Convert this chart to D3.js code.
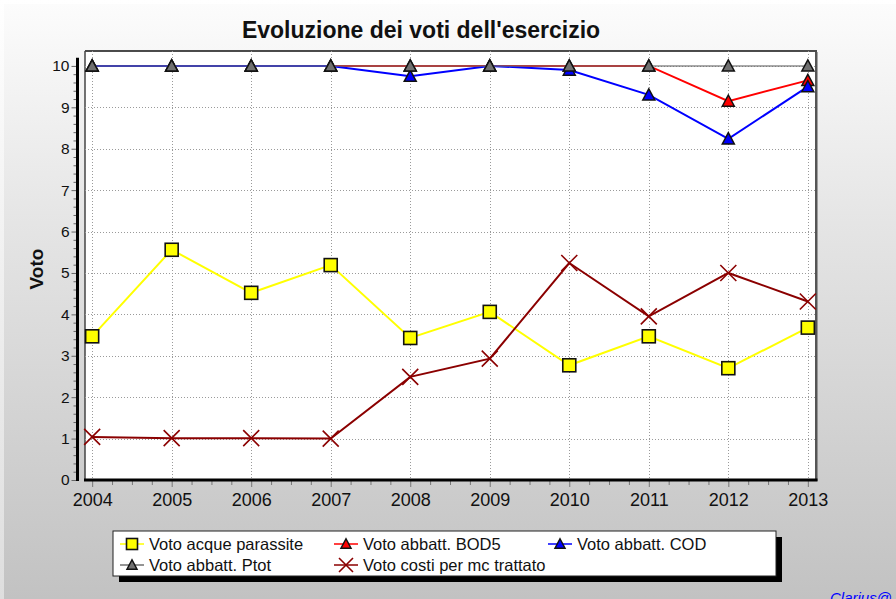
<!DOCTYPE html>
<html>
<head>
<meta charset="utf-8">
<script src="https://cdn.jsdelivr.net/npm/d3@7/dist/d3.min.js"></script>
<style>
  html, body { margin: 0; padding: 0; background: #fff; }
  svg { display: block; font-family: "Liberation Sans", Arial, sans-serif; }
</style>
</head>
<body>
<svg id="chart" width="896" height="599"></svg>
<script>
// Years on the x axis
const years = [2004, 2005, 2006, 2007, 2008, 2009, 2010, 2011, 2012, 2013];

// Scores per indicator
const acqueParassite = [3.47, 5.56, 4.52, 5.19, 3.43, 4.06, 2.77, 3.47, 2.70, 3.68];
const abbattBOD5     = [10, 10, 10, 10, 10, 10, 10, 10, 9.15, 9.65];
const abbattCOD      = [10, 10, 10, 10, 9.75, 10, 9.9, 9.3, 8.24, 9.5];
const abbattPtot     = [10, 10, 10, 10, 10, 10, 10, 10, 10, 10];
const costiMc        = [1.04, 1.01, 1.01, 1.00, 2.49, 2.93, 5.24, 3.95, 5.0, 4.31];

const yTicks = [0, 1, 2, 3, 4, 5, 6, 7, 8, 9, 10];

const seriesNames = [
  "Voto acque parassite",
  "Voto abbatt. BOD5",
  "Voto abbatt. COD",
  "Voto abbatt. Ptot",
  "Voto costi per mc trattato"
];

const title = "Evoluzione dei voti dell'esercizio";
const yLabel = "Voto";

const series = [
  { name: seriesNames[0], values: acqueParassite, color: "#ffff00", symbol: "square", lineOpacity: 1 },
  { name: seriesNames[4], values: costiMc, color: "#8b0000", symbol: "cross", lineOpacity: 1 },
  { name: seriesNames[1], values: abbattBOD5, color: "#ff0000", symbol: "triangle", lineOpacity: 1 },
  { name: seriesNames[2], values: abbattCOD, color: "#0000ff", symbol: "triangle", lineOpacity: 1 },
  { name: seriesNames[3], values: abbattPtot, color: "#707070", symbol: "triangle", lineOpacity: 0.6, fill: "#707070" }
];

const svg = d3.select("#chart");
const W = 896, H = 599;
const plot = { left: 85, right: 815, top: 51, bottom: 480 };
const FONT = "'Liberation Sans', Arial, sans-serif";

// Background gradients
const defs = svg.append("defs");
const g1 = defs.append("linearGradient").attr("id", "bgOuter").attr("x1", 0).attr("y1", 0).attr("x2", 0).attr("y2", 1);
g1.append("stop").attr("offset", "0%").attr("stop-color", "#ffffff");
g1.append("stop").attr("offset", "100%").attr("stop-color", "#dedede");
const g2 = defs.append("linearGradient").attr("id", "bgInner").attr("x1", 0).attr("y1", 0).attr("x2", 0).attr("y2", 1);
g2.append("stop").attr("offset", "0%").attr("stop-color", "#fcfcfc");
g2.append("stop").attr("offset", "35%").attr("stop-color", "#e6e6e6");
g2.append("stop").attr("offset", "100%").attr("stop-color", "#c2c2c2");

svg.append("rect").attr("width", W).attr("height", H).attr("fill", "url(#bgOuter)");
svg.append("rect").attr("x", 4).attr("y", 4).attr("width", W - 4).attr("height", H - 4).attr("fill", "url(#bgInner)");

// Scales
const x = d3.scaleLinear().domain([2003.91, 2013.09]).range([plot.left, plot.right]);
const y = d3.scaleLinear().domain([0, 10.36]).range([plot.bottom, plot.top]);

// Plot area with shadow on the right
svg.append("rect")
  .attr("x", plot.right).attr("y", plot.top + 1)
  .attr("width", 2.5).attr("height", plot.bottom - plot.top)
  .attr("fill", "#555");
svg.append("rect")
  .attr("x", plot.left).attr("y", plot.top)
  .attr("width", plot.right - plot.left).attr("height", plot.bottom - plot.top)
  .attr("fill", "#fff");
svg.append("line")
  .attr("x1", plot.left).attr("x2", plot.right + 2)
  .attr("y1", plot.top).attr("y2", plot.top)
  .attr("stroke", "#111").attr("stroke-width", 1.5);
svg.append("line")
  .attr("x1", plot.left).attr("x2", plot.left)
  .attr("y1", plot.top).attr("y2", plot.bottom)
  .attr("stroke", "#444").attr("stroke-width", 1.5);

// Grid
const grid = svg.append("g").attr("stroke", "#9a9a9a").attr("stroke-width", 1).attr("stroke-dasharray", "1,2");
grid.selectAll("line.h").data(yTicks.filter(v => v > 0)).join("line")
  .attr("x1", plot.left).attr("x2", plot.right)
  .attr("y1", d => Math.round(y(d)) + 0.5).attr("y2", d => Math.round(y(d)) + 0.5);
grid.selectAll("line.v").data(years).join("line")
  .attr("x1", d => Math.round(x(d)) + 0.5).attr("x2", d => Math.round(x(d)) + 0.5)
  .attr("y1", plot.top).attr("y2", plot.bottom);

// Y axis, drawn offset to the left of the plot area
const yAxisX = 77.5;
const yMinor = d3.range(0, 10.01, 0.2).filter(v => Math.abs(v - Math.round(v)) > 1e-6);
const yMinorG = svg.append("g").attr("transform", `translate(${yAxisX},0)`)
  .call(d3.axisLeft(y).tickValues(yMinor).tickSize(4).tickFormat(""));
yMinorG.select(".domain").remove();
yMinorG.selectAll("line").attr("stroke", "#666");
const yG = svg.append("g").attr("transform", `translate(${yAxisX},0)`)
  .call(d3.axisLeft(y).tickValues(yTicks).tickSize(6).tickPadding(2).tickFormat(d3.format("d")));
yG.select(".domain").remove();
yG.selectAll("line").attr("stroke", "#666");
yG.selectAll("text").attr("font-size", 15.5).attr("fill", "#111").attr("font-family", FONT);
svg.append("line")
  .attr("x1", yAxisX).attr("x2", yAxisX)
  .attr("y1", y(10.2)).attr("y2", y(0) + 1)
  .attr("stroke", "#000").attr("stroke-width", 3);

// X axis
const xMinor = d3.range(2004, 2013.01, 0.25).filter(v => Math.abs(v - Math.round(v)) > 1e-6);
const xMinorG = svg.append("g").attr("transform", `translate(0,${plot.bottom})`)
  .call(d3.axisBottom(x).tickValues(xMinor).tickSize(5).tickFormat(""));
xMinorG.select(".domain").remove();
xMinorG.selectAll("line").attr("stroke", "#777");
const xG = svg.append("g").attr("transform", `translate(0,${plot.bottom})`)
  .call(d3.axisBottom(x).tickValues(years).tickSize(7).tickPadding(6).tickFormat(d3.format("d")));
xG.select(".domain").remove();
xG.selectAll("line").attr("stroke", "#777");
xG.selectAll("text").attr("font-size", 18).attr("fill", "#111").attr("font-family", FONT);
svg.append("line")
  .attr("x1", plot.left - 1).attr("x2", plot.right + 2.5)
  .attr("y1", plot.bottom).attr("y2", plot.bottom)
  .attr("stroke", "#000").attr("stroke-width", 3);

// Marker shapes
function drawMarker(sel, s, size) {
  if (s.symbol === "square") {
    sel.append("rect")
      .attr("x", -size / 2).attr("y", -size / 2)
      .attr("width", size).attr("height", size)
      .attr("fill", s.color).attr("stroke", "#111").attr("stroke-width", 1.6);
  } else if (s.symbol === "triangle") {
    const h = size * 0.85;
    sel.append("path")
      .attr("d", `M0,${-h / 2 - 1} L${size / 2},${h / 2} L${-size / 2},${h / 2} Z`)
      .attr("fill", s.fill || s.color).attr("stroke", "#111").attr("stroke-width", 1.5)
      .attr("stroke-linejoin", "miter");
  } else if (s.symbol === "cross") {
    const r = size / 2;
    sel.append("path")
      .attr("d", `M${-r},${-r} L${r},${r} M${-r},${r} L${r},${-r}`)
      .attr("stroke", s.color).attr("stroke-width", 1.6).attr("fill", "none");
  }
}

const markerSize = { square: 13, triangle: 12, cross: 16 };

// Series
const line = d3.line().x((d, i) => x(years[i])).y(d => y(d));
series.forEach(s => {
  const g = svg.append("g");
  g.append("path")
    .attr("d", line(s.values))
    .attr("fill", "none")
    .attr("stroke", s.color)
    .attr("stroke-opacity", s.lineOpacity)
    .attr("stroke-width", 2);
  g.selectAll("g.m").data(s.values).join("g")
    .attr("transform", (d, i) => `translate(${x(years[i])},${y(d)})`)
    .each(function () { drawMarker(d3.select(this), s, markerSize[s.symbol]); });
});

// Title
svg.append("text")
  .attr("x", 421).attr("y", 38)
  .attr("text-anchor", "middle")
  .attr("font-size", 23).attr("font-weight", "bold").attr("fill", "#111")
  .text(title);

// Y axis label
svg.append("text")
  .attr("transform", "translate(43,269) rotate(-90)")
  .attr("text-anchor", "middle")
  .attr("font-size", 19).attr("font-weight", "bold").attr("fill", "#111")
  .text(yLabel);

// Legend
const lg = { x: 113, y: 531, w: 663, h: 45 };
svg.append("rect").attr("x", lg.x + 6).attr("y", lg.y + 6).attr("width", lg.w).attr("height", lg.h).attr("fill", "#000");
svg.append("rect").attr("x", lg.x).attr("y", lg.y).attr("width", lg.w).attr("height", lg.h)
  .attr("fill", "#fff").attr("stroke", "#222").attr("stroke-width", 1);

const legendOrder = [
  { s: series[0], col: 0, row: 0 },
  { s: series[2], col: 1, row: 0 },
  { s: series[3], col: 2, row: 0 },
  { s: series[4], col: 0, row: 1 },
  { s: series[1], col: 1, row: 1 }
];
const colX = [120, 334, 548];
const rowY = [544, 565];
legendOrder.forEach(({ s, col, row }) => {
  const g = svg.append("g").attr("transform", `translate(${colX[col]},${rowY[row]})`);
  g.append("line").attr("x1", 0).attr("x2", 24).attr("y1", 0).attr("y2", 0)
    .attr("stroke", s.color).attr("stroke-width", 1.5);
  const m = g.append("g").attr("transform", "translate(12,0)");
  drawMarker(m, s, s.symbol === "square" ? 11 : s.symbol === "cross" ? 14 : 10);
  g.append("text").attr("x", 29).attr("y", 6)
    .attr("font-size", 16.5).attr("fill", "#111").text(s.name);
});

// Credit text at the bottom right
svg.append("text")
  .attr("x", 830).attr("y", 603)
  .attr("font-size", 15).attr("font-style", "italic").attr("fill", "#0000ff")
  .text("Clarius@");
</script>
</body>
</html>
